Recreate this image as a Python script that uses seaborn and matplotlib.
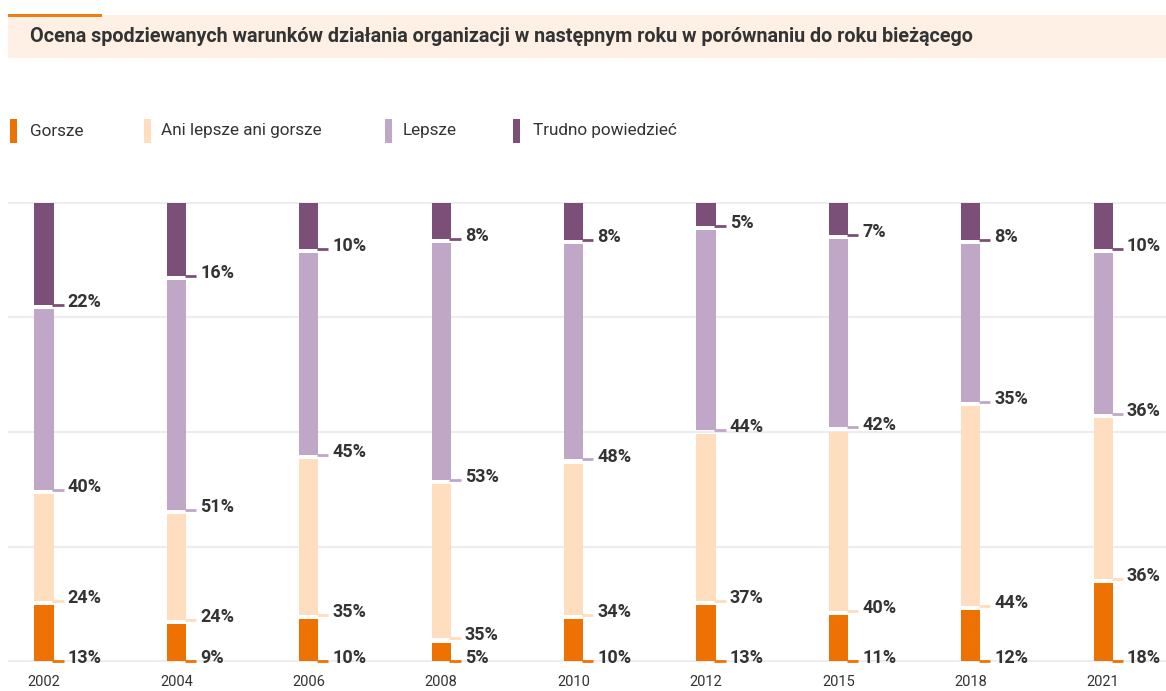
import numpy as np
import pandas as pd
import matplotlib
matplotlib.use("Agg")
import matplotlib.pyplot as plt
import seaborn as sns
from matplotlib.patches import Rectangle

years = ["2002", "2004", "2006", "2008", "2010", "2012", "2015", "2018", "2021"]
gorsze = [13, 9, 10, 5, 10, 13, 11, 12, 18]
ani = [24, 24, 35, 35, 34, 37, 40, 44, 36]
lepsze = [40, 51, 45, 53, 48, 44, 42, 35, 36]
trudno = [22, 16, 10, 8, 8, 5, 7, 8, 10]
series_names = ["Gorsze", "Ani lepsze ani gorsze", "Lepsze", "Trudno powiedzieć"]
colors = ["#EE7203", "#FFDDBF", "#C1A7C7", "#7B4F78"]
title = "Ocena spodziewanych warunków działania organizacji w następnym roku w porównaniu do roku bieżącego"

sns.set_theme(style="white")
plt.rcParams['font.family'] = ['Roboto', 'DejaVu Sans']

W, H = 1166, 691
fig = plt.figure(figsize=(W / 100, H / 100), dpi=100)
fig.patch.set_facecolor("white")
ax = fig.add_axes([8 / W, (H - 662) / H, 1158 / W, 460 / H])

series = [gorsze, ani, lepsze, trudno]
arr = np.array(series, dtype=float)
totals = arr.sum(axis=0)
norm = arr / totals * 100
bottoms = np.vstack([np.zeros(len(years)), np.cumsum(norm, axis=0)[:-1]])
gap = 0.9
bar_w = 0.145
lead = 0.075

for i, name in enumerate(series_names):
    heights = norm[i] - (gap if i < len(series_names) - 1 else 0)
    d = pd.DataFrame({"year": years, "h": heights})
    sns.barplot(data=d, x="year", y="h", order=years, color=colors[i],
                saturation=1, width=bar_w, errorbar=None, bottom=bottoms[i],
                linewidth=0, ax=ax, zorder=2)
    for j in range(len(years)):
        x0 = j + bar_w / 2
        y = bottoms[i][j]
        ax.plot([x0 - 0.01, x0 + lead], [y, y], color=colors[i], lw=2,
                solid_capstyle='butt', zorder=3, clip_on=False)
        ax.annotate(f"{int(series[i][j])}%", xy=(x0 + lead, y), xytext=(3, -1.5),
                    textcoords='offset points', va='baseline', ha='left',
                    fontsize=13, fontweight='bold', color='#333333',
                    annotation_clip=False)

ax.set_xlim(-0.272, 8.474)
ax.set_ylim(-0.2, 100.2)
ax.set_yticks([0, 25, 50, 75, 100])
ax.set_yticklabels([])
ax.yaxis.grid(True, color='#EDEDF1', lw=1.6)
ax.set_axisbelow(True)
ax.set_xticks(range(len(years)))
ax.set_xticklabels(years)
ax.tick_params(axis='x', length=0, pad=9, labelsize=10.5, labelcolor='#333333')
ax.tick_params(axis='y', length=0)
ax.set_xlabel("")
ax.set_ylabel("")
for s in ax.spines.values():
    s.set_visible(False)

# title box
fig.add_artist(Rectangle((8 / W, (H - 58) / H), (W - 8) / W, 43 / H,
                         transform=fig.transFigure, facecolor='#FEF0E4',
                         edgecolor='none', zorder=0))
fig.add_artist(Rectangle((8 / W, (H - 17) / H), 94 / W, 3 / H,
                         transform=fig.transFigure, facecolor='#F07D12',
                         edgecolor='none', zorder=1))
fig.text(30 / W, (H - 37) / H, title, va='center', ha='left', fontsize=14.2,
         fontweight='bold', color='#333333')

# legend
mxs = [10, 144, 385, 513]
txs = [30, 161, 403, 533]
for name, c, mx, tx in zip(series_names, colors, mxs, txs):
    fig.add_artist(Rectangle((mx / W, (H - 143) / H), 7 / W, 24 / H,
                             transform=fig.transFigure, facecolor=c,
                             edgecolor='none'))
    fig.text(tx / W, (H - 131) / H, name, va='center', ha='left',
             fontsize=12.3, color='#333333')

fig.savefig("out.png", dpi=100)
